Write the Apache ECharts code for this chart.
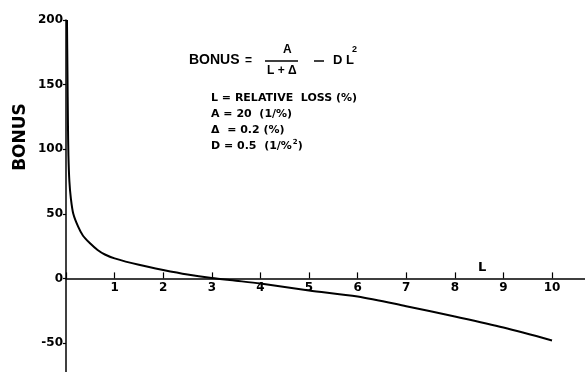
<!DOCTYPE html>
<html>
<head>
<meta charset="utf-8">
<script src="https://cdn.jsdelivr.net/npm/echarts@6/dist/echarts.min.js"></script>
<style>html,body{margin:0;padding:0;background:#fff}#c{width:585px;height:372px}</style>
</head>
<body>
<div id="c"></div>
<script>
// Relative loss L (%) and the bonus
const lossValues  = [0.02, 0.03, 0.04, 0.05, 0.07, 0.10, 0.15, 0.25, 0.35, 0.50, 0.65, 0.80, 1.00, 1.50, 2.00, 2.50, 3.00, 3.50, 4.00, 5.00, 6.00, 7.00, 8.00, 9.00, 10.00];
const bonusValues = [200, 160, 120, 95, 75, 62, 50, 40, 33, 27, 22, 18.5, 15.5, 10.5, 6.5, 3, 0.3, -1.8, -4, -9.3, -14, -21.5, -29.5, -38, -48];
const yTickValues = [200, 150, 100, 50, 0, -50];
const xTickValues = [1, 2, 3, 4, 5, 6, 7, 8, 9, 10];

const seriesData = lossValues.map((l, i) => [l, bonusValues[i]]);
const FONT = '"Liberation Sans", Arial, sans-serif';
const DJ = '"DejaVu Sans", sans-serif';
const Y_MIN = -100, Y_MAX = 200, PX_PER_UNIT = 1.292, GRID_TOP = 20;
const chart = echarts.init(document.getElementById('c'));
const txt = (x, y, s, font, extra) => Object.assign({
  type: 'text', x: x, y: y,
  style: { text: s, fill: '#000', font: font, textVerticalAlign: 'middle' }
}, extra || {});
const richLine = (x, y, main, sup, tail) => ({
  type: 'text', x: x, y: y,
  style: {
    text: '{n|' + main + '}' + (sup ? '{s|' + sup + '}' : '') + (tail ? '{n|' + tail + '}' : ''),
    fill: '#000', textVerticalAlign: 'middle',
    rich: {
      n: { font: 'bold 11px ' + DJ, fill: '#000' },
      s: { font: 'bold 7px ' + DJ, fill: '#000', padding: [0, 0, 8, 1] }
    }
  }
});

chart.setOption({
  animation: false,
  grid: { left: 66, top: GRID_TOP, width: 11 * 48.6, height: (Y_MAX - Y_MIN) * PX_PER_UNIT, containLabel: false, outerBoundsMode: 'none' },
  xAxis: {
    type: 'value', min: 0, max: 11, interval: 1,
    // place the axis at BONUS = 0 (distance from grid bottom to the zero line)
    offset: -(0 - Y_MIN) * PX_PER_UNIT,
    axisLine: { onZero: false, lineStyle: { color: '#000', width: 1.5 } },
    axisTick: { inside: true, length: 6, lineStyle: { color: '#000', width: 1.2 } },
    axisLabel: {
      color: '#000', fontFamily: DJ, fontWeight: 'bold', fontSize: 12, margin: 3,
      formatter: v => xTickValues.indexOf(v) >= 0 ? String(v) : ''
    },
    splitLine: { show: false }
  },
  yAxis: {
    type: 'value', min: Y_MIN, max: Y_MAX, interval: 50,
    axisLine: { onZero: false, lineStyle: { color: '#000', width: 1.5 } },
    axisTick: { inside: false, length: 3, lineStyle: { color: '#000', width: 1.2 } },
    axisLabel: {
      color: '#000', fontFamily: DJ, fontWeight: 'bold', fontSize: 12, margin: 3,
      formatter: v => yTickValues.indexOf(v) >= 0 ? String(v) : ''
    },
    splitLine: { show: false }
  },
  series: [{
    type: 'line', data: seriesData, smooth: 0.3, showSymbol: false, clip: true,
    lineStyle: { color: '#000', width: 2 }
  }],
  graphic: [
    { type: 'text', x: 21, y: 137, rotation: Math.PI / 2,
      style: { text: 'BONUS', fill: '#000', font: 'bold 17px ' + DJ, textAlign: 'center', textVerticalAlign: 'middle' } },
    txt(478, 268, 'L', 'bold 13px ' + DJ),
    txt(189, 60, 'BONUS', 'bold 14px ' + FONT),
    txt(245, 61, '=', 'bold 12px ' + FONT),
    txt(283, 50, 'A', 'bold 12px ' + FONT),
    { type: 'line', shape: { x1: 265, y1: 61, x2: 298, y2: 61 }, style: { stroke: '#000', lineWidth: 1.5 } },
    txt(267, 71, 'L + Δ', 'bold 12px ' + FONT),
    { type: 'line', shape: { x1: 314, y1: 61, x2: 324, y2: 61 }, style: { stroke: '#000', lineWidth: 1.5 } },
    txt(333, 60, 'D L', 'bold 13px ' + FONT),
    txt(352, 50, '2', 'bold 9px ' + FONT),
    richLine(211, 98, 'L = RELATIVE  LOSS (%)'),
    richLine(211, 114, 'A = 20  (1/%)'),
    richLine(211, 130, 'Δ  = 0.2 (%)'),
    richLine(211, 146, 'D = 0.5  (1/%', '2', ')')
  ]
});
</script>
</body>
</html>
